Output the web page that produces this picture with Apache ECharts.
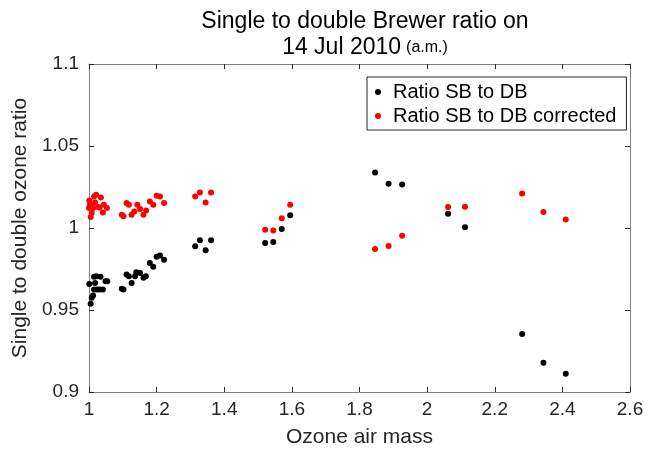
<!DOCTYPE html>
<html>
<head>
<meta charset="utf-8">
<script src="https://cdn.jsdelivr.net/npm/echarts@6/dist/echarts.min.js"></script>
<style>html,body{margin:0;padding:0;background:#fff;}#c{width:659px;height:456px;}</style>
</head>
<body>
<div id="c"></div>
<script>
const airMass = [
  1.001,1.005,1.008,1.012,1.015,1.021,1.018,1.015,1.024,1.031,1.034,1.041,1.049,1.054,
  1.097,1.102,1.111,1.118,1.126,1.136,1.140,1.151,1.161,1.168,1.180,1.190,1.200,1.210,1.222,
  1.314,1.328,1.345,1.361,
  1.521,1.545,1.570,1.595,
  1.846,1.886,1.926,
  2.062,2.112,
  2.281,2.344,2.410
];
const ratioSB = [
  0.9659,0.9538,0.9574,0.9588,0.9702,0.9706,0.9665,0.9625,0.9625,0.9625,0.9702,0.9625,0.9675,0.9675,
  0.9629,0.9625,0.9716,0.9706,0.9665,0.9706,0.9730,0.9726,0.9696,0.9706,0.9787,0.9763,0.9824,0.9832,0.9807,
  0.9888,0.9925,0.9864,0.9925,
  0.9909,0.9915,0.9994,1.0078,
  1.0338,1.0270,1.0265,
  1.0087,1.0004,
  0.9353,0.9179,0.9111
];
const airMassCorr = [
  1.001,1.000,1.003,1.008,1.005,1.015,1.021,1.018,1.027,1.035,1.031,1.041,1.044,1.053,1.012,
  1.097,1.102,1.111,1.118,1.126,1.134,1.143,1.151,1.161,1.169,1.180,1.190,1.200,1.210,1.222,
  1.314,1.328,1.345,1.361,
  1.521,1.545,1.570,1.595,
  1.846,1.886,1.926,
  2.062,2.112,
  2.281,2.344,2.410
];
const ratioSBCorr = [
  1.0168,1.0122,1.0142,1.0091,1.0067,1.0192,1.0203,1.0156,1.0128,1.0186,1.0125,1.0095,1.0142,1.0122,1.0122,
  1.0081,1.0071,1.0152,1.0142,1.0081,1.0101,1.0142,1.0116,1.0081,1.0107,1.0162,1.0142,1.0196,1.0192,1.0152,
  1.0192,1.0217,1.0156,1.0217,
  0.9990,0.9984,1.0060,1.0142,
  0.9872,0.9890,0.9953,
  1.0128,1.0130,
  1.0210,1.0097,1.0052
];
const seriesNames = ['Ratio SB to DB', 'Ratio SB to DB corrected'];
const titleLine1 = 'Single to double Brewer ratio on';
const titleLine2 = '14 Jul 2010';
const titleNote = '(a.m.)';
const xName = 'Ozone air mass';
const yName = 'Single to double ozone ratio';

const font = 'Liberation Sans, Arial, sans-serif';
const axisCol = '#262626';
const frameCol = '#808080';

const chart = echarts.init(document.getElementById('c'), null, {renderer: 'canvas'});
const pair = (xs, ys) => xs.map((x, i) => [x, ys[i]]);
const tickStyle = {show: true, inside: true, length: 5, lineStyle: {color: axisCol, width: 1}};
chart.setOption({
  animation: false,
  backgroundColor: '#fff',
  title: {
    text: '{a|' + titleLine1 + '}\n{a|' + titleLine2 + '} {b|' + titleNote + '}',
    left: 360, top: 4, textAlign: 'center',
    textStyle: {
      fontWeight: 'normal',
      rich: {
        a: {fontFamily: font, fontSize: 23, fontWeight: 'normal', color: '#000', lineHeight: 26},
        b: {fontFamily: font, fontSize: 16, fontWeight: 'normal', color: '#000', lineHeight: 26, verticalAlign: 'bottom', padding: [0,0,5,0]}
      }
    }
  },
  legend: {
    orient: 'vertical',
    left: 367, top: 77,
    padding: [5, 10, 4, 8],
    itemGap: 4,
    itemWidth: 6, itemHeight: 6,
    borderColor: axisCol, borderWidth: 1,
    backgroundColor: '#fff',
    icon: 'circle',
    textStyle: {fontFamily: font, fontSize: 20, color: '#000', padding: [0, 0, 0, 7]},
    data: seriesNames
  },
  grid: {left: 89, right: 29, top: 64, bottom: 64},
  xAxis: [{
    type: 'value', min: 1, max: 2.6, interval: 0.2,
    name: xName, nameLocation: 'middle', nameGap: 35,
    nameTextStyle: {fontFamily: font, fontSize: 21, color: axisCol},
    axisLine: {show: true, onZero: false, lineStyle: {color: frameCol, width: 1}},
    axisTick: tickStyle,
    axisLabel: {fontFamily: font, fontSize: 19, color: axisCol, margin: 8},
    splitLine: {show: false}
  }, {
    type: 'value', min: 1, max: 2.6, interval: 0.2, position: 'top',
    axisLine: {show: true, onZero: false, lineStyle: {color: frameCol, width: 1}},
    axisTick: tickStyle, axisLabel: {show: false}, splitLine: {show: false}
  }],
  yAxis: [{
    type: 'value', min: 0.9, max: 1.1, interval: 0.05,
    name: yName, nameLocation: 'middle', nameGap: 52, nameRotate: 90,
    nameTextStyle: {fontFamily: font, fontSize: 21, color: axisCol},
    axisLine: {show: true, onZero: false, lineStyle: {color: frameCol, width: 1}},
    axisTick: tickStyle,
    axisLabel: {fontFamily: font, fontSize: 19, color: axisCol, margin: 10},
    splitLine: {show: false}
  }, {
    type: 'value', min: 0.9, max: 1.1, interval: 0.05, position: 'right',
    axisLine: {show: true, onZero: false, lineStyle: {color: frameCol, width: 1}},
    axisTick: tickStyle, axisLabel: {show: false}, splitLine: {show: false}
  }],
  series: [{
    name: seriesNames[0], type: 'scatter', symbol: 'circle', symbolSize: 6,
    itemStyle: {color: '#000', opacity: 1}, data: pair(airMass, ratioSB)
  }, {
    name: seriesNames[1], type: 'scatter', symbol: 'circle', symbolSize: 6,
    itemStyle: {color: '#ff0000', opacity: 1}, data: pair(airMassCorr, ratioSBCorr)
  }]
});
</script>
</body>
</html>
